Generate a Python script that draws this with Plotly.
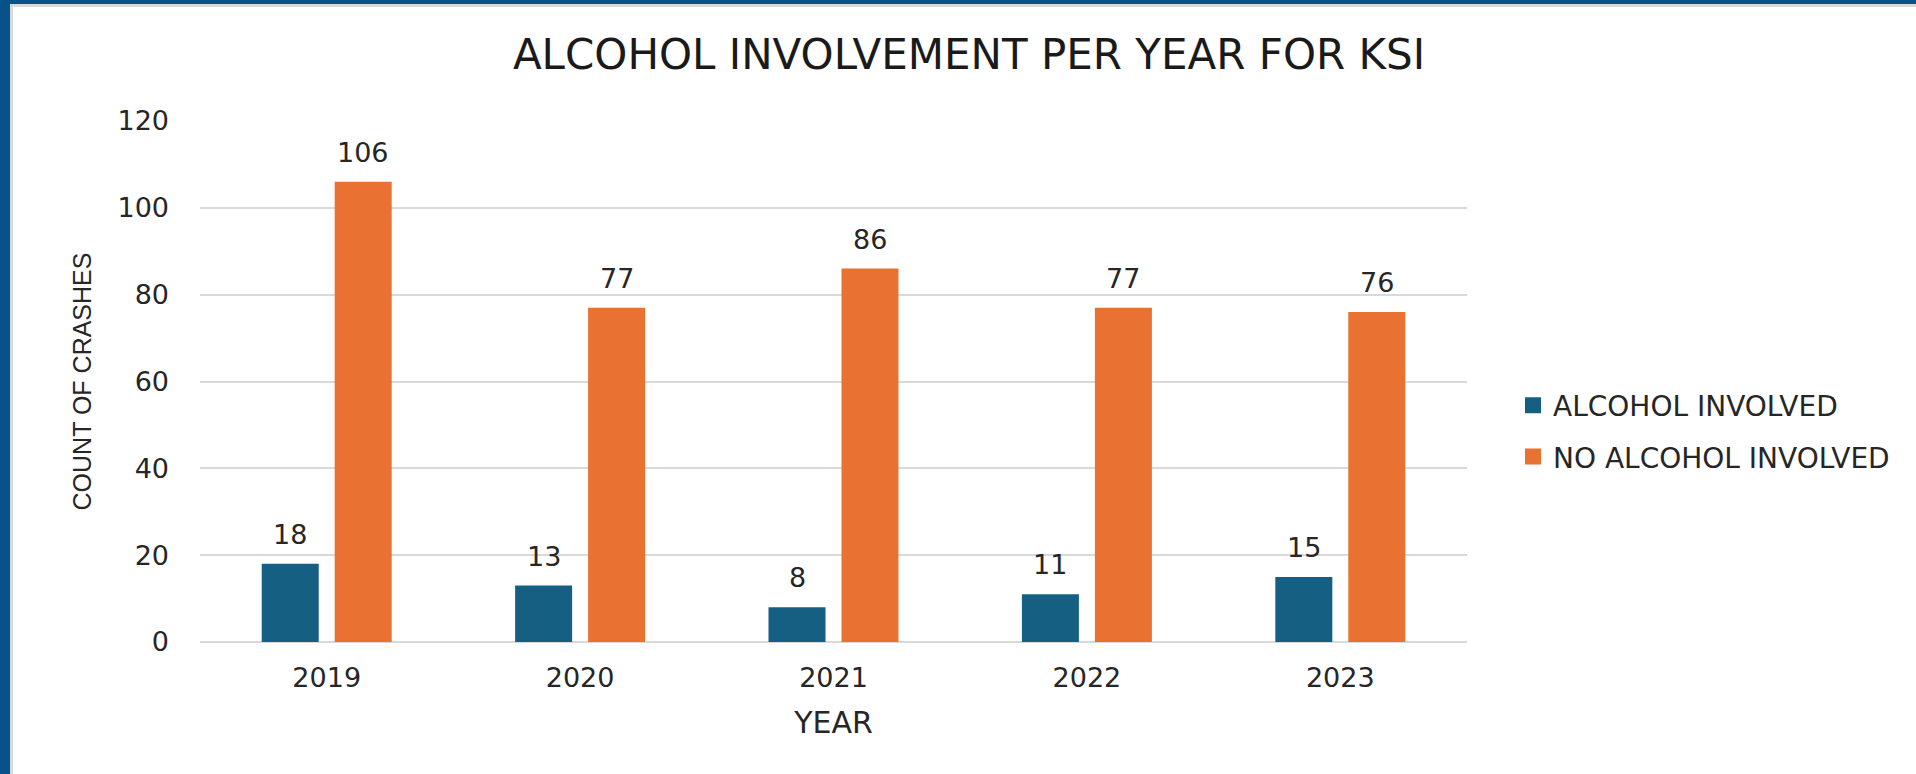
import plotly.graph_objects as go

# Chart data
years = ["2019", "2020", "2021", "2022", "2023"]
alcohol_involved = [18, 13, 8, 11, 15]
no_alcohol_involved = [106, 77, 86, 77, 76]
series_names = ["ALCOHOL INVOLVED", "NO ALCOHOL INVOLVED"]
y_ticks = [0, 20, 40, 60, 80, 100, 120]

# Figure geometry (pixels)
FIG_W, FIG_H = 1916, 774
M_L, M_R, M_T, M_B = 200, 449, 121, 132
PLOT_W = FIG_W - M_L - M_R
PLOT_H = FIG_H - M_T - M_B
BARGAP = 0.424
BARGROUPGAP = 0.219

BLUE = "#156082"
ORANGE = "#E97132"
FRAME_BLUE = "#07528A"
GRID = "#D9D9D9"
TEXT = "#262626"
FONT = "DejaVu Sans, Liberation Sans, Arial, sans-serif"

fig = go.Figure()
for name, vals, color in [
    (series_names[0], alcohol_involved, BLUE),
    (series_names[1], no_alcohol_involved, ORANGE),
]:
    fig.add_trace(go.Bar(
        x=years, y=vals, name=name, legendgroup=name, showlegend=False,
        marker=dict(color=color, line=dict(width=0)),
    ))
    # legend entry with a larger square swatch
    fig.add_trace(go.Scatter(
        x=[None], y=[None], mode="markers", name=name, legendgroup=name,
        marker=dict(symbol="square", size=16, color=color),
        hoverinfo="skip",
    ))

# Value labels above each bar, placed over the centre of the bar slot
# (category axis: annotation x is the category index)
cat_px = PLOT_W / len(years)
slot_px = cat_px * (1 - BARGAP) / 2
for k, vals in enumerate([alcohol_involved, no_alcohol_involved]):
    shift = (k - 0.5) * slot_px
    for i, v in enumerate(vals):
        fig.add_annotation(
            x=i, y=v, xref="x", yref="y", text=str(v), showarrow=False,
            xshift=shift, yshift=12, yanchor="bottom",
            font=dict(family=FONT, size=27, color=TEXT),
        )


def px_x(p):
    return (p - M_L) / PLOT_W


def px_y(p):
    return (FIG_H - M_B - p) / PLOT_H


# Frame around the chart: dark blue edges with a thin grey inner line
frame = [
    (0, 0, 10, FIG_H, FRAME_BLUE),
    (10, 4, 13, FIG_H, GRID),
    (0, 0, FIG_W, 4, FRAME_BLUE),
    (10, 4, FIG_W, 7, GRID),
]
for x0, y0, x1, y1, c in frame:
    fig.add_shape(type="rect", xref="paper", yref="paper",
                  x0=px_x(x0), x1=px_x(x1), y0=px_y(y1), y1=px_y(y0),
                  fillcolor=c, line=dict(width=0), layer="above")

fig.update_layout(
    width=FIG_W, height=FIG_H, autosize=False,
    margin=dict(l=M_L, r=M_R, t=M_T, b=M_B, pad=0),
    paper_bgcolor="white", plot_bgcolor="white",
    barmode="group", bargap=BARGAP, bargroupgap=BARGROUPGAP,
    title=dict(
        text="ALCOHOL INVOLVEMENT PER YEAR FOR KSI",
        x=969 / FIG_W, xanchor="center", xref="container",
        y=1 - 54 / FIG_H, yanchor="middle", yref="container",
        font=dict(family=FONT, size=42, color="#1a1a1a"),
    ),
    font=dict(family=FONT, color=TEXT),
    legend=dict(
        xref="container", yref="container",
        x=1513 / FIG_W, xanchor="left",
        y=1 - 431 / FIG_H, yanchor="middle",
        font=dict(family=FONT, size=28, color=TEXT),
        tracegroupgap=12, bgcolor="rgba(0,0,0,0)",
    ),
    showlegend=True,
)

fig.update_xaxes(
    type="category", range=[-0.5, len(years) - 0.5],
    showgrid=False, showline=False, zeroline=False,
    ticks="", ticklabelstandoff=17,
    tickfont=dict(family=FONT, size=27, color=TEXT),
    title=dict(text="YEAR", standoff=19,
               font=dict(family=FONT, size=30, color=TEXT)),
)
fig.update_yaxes(
    range=[0, 120], tickvals=y_ticks, showgrid=True, gridcolor=GRID,
    gridwidth=2, zeroline=True, zerolinecolor=GRID, zerolinewidth=2,
    showline=False, ticks="", ticklabelstandoff=30,
    tickfont=dict(family=FONT, size=27, color=TEXT),
    title=dict(text="COUNT OF CRASHES", standoff=18,
               font=dict(family="Liberation Sans, Arial, sans-serif",
                         size=25, color=TEXT)),
)

fig.write_html("out.html")
